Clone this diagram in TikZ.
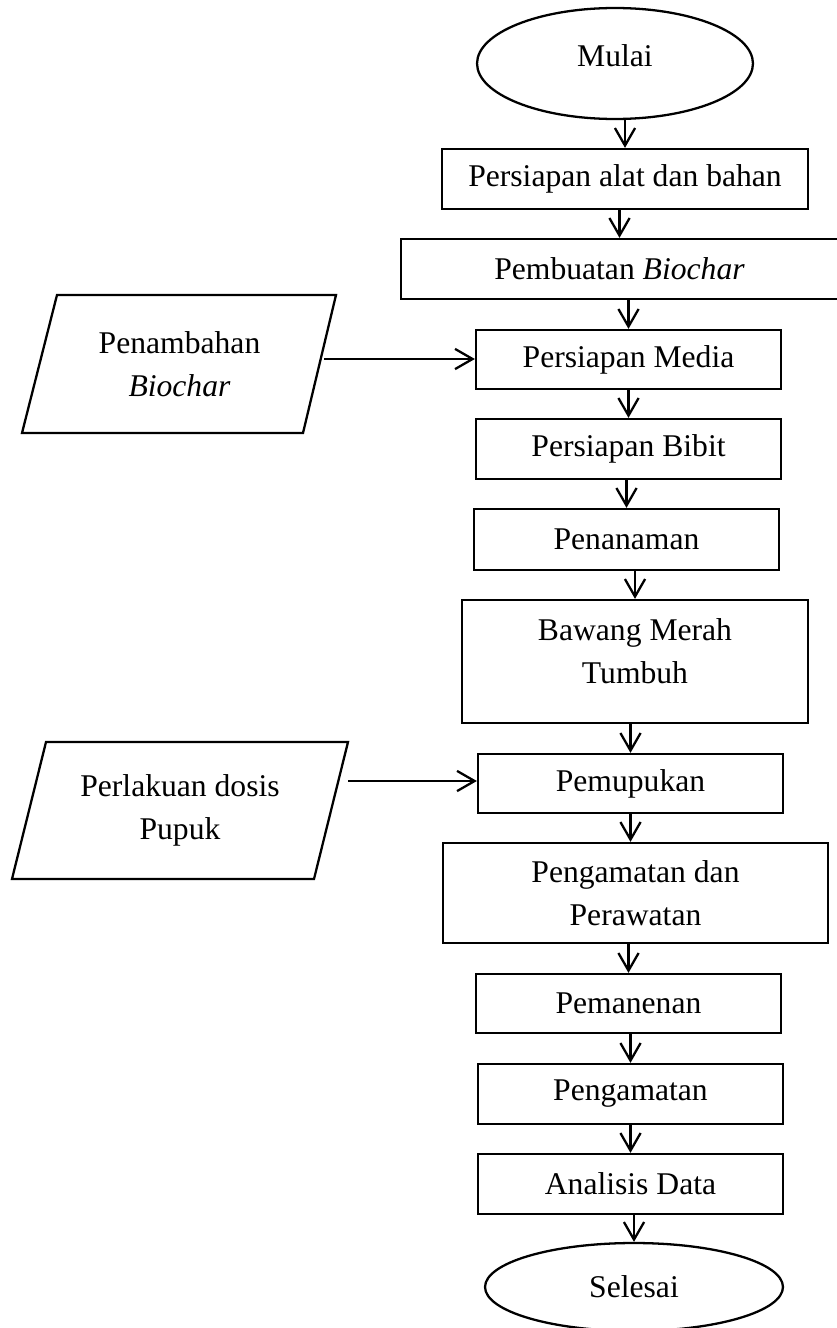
\documentclass[tikz,border=0pt]{standalone}
\usepackage{fontspec}
\setmainfont{Liberation Serif}
\usetikzlibrary{arrows.meta,shapes.geometric}
\begin{document}
\begin{tikzpicture}[x=0.02cm,y=-0.02cm,
  font=\fontsize{18}{24.5}\selectfont,
  box/.style={draw,line width=1.3pt,rectangle,inner sep=0pt,align=center,minimum width=6.1cm,minimum height=1.2cm},
  term/.style={draw,line width=1.3pt,ellipse,inner sep=0pt},
  para/.style={draw,line width=1.3pt,line join=miter},
  txt/.style={inner sep=0pt,align=center},
  arr/.style={line width=1.3pt,-{Straight Barb[length=10pt,width=11.5pt,line width=1.3pt]}}]
\useasboundingbox (0,0) rectangle (836,1328);

\node[term,minimum width=5.52cm,minimum height=2.22cm] (mulai) at (615,63.5) {};
\node[txt] (mulait) at (615,56) {Mulai};
\node[box,minimum width=7.32cm] (b1) at (625,179) {Persiapan alat dan bahan};
\node[box,minimum width=8.74cm] (b2) at (619.5,269) {Pembuatan \textit{Biochar}};
\node[box,minimum height=1.18cm] (b3) at (628.5,359.5) {Persiapan Media};
\node[box] (b4) at (628.5,449) {Persiapan Bibit};
\node[box,minimum height=1.22cm] (b5) at (626.5,539.5) {Penanaman};
\node[box,minimum width=6.92cm,minimum height=2.46cm] (b6) at (635,661.5) {};
\node[txt] (b6t) at (635,651) {Bawang Merah\\Tumbuh};
\node[box,minimum height=1.18cm] (b7) at (630.5,783.5) {Pemupukan};
\node[box,minimum width=7.7cm,minimum height=2.0cm] (b8) at (635.5,893) {Pengamatan dan\\Perawatan};
\node[box,minimum height=1.18cm] (b9) at (628.5,1003.5) {Pemanenan};
\node[box] (b10) at (630.5,1094) {Pengamatan};
\node[box] (b11) at (630.5,1184) {Analisis Data};
\node[term,minimum width=5.96cm,minimum height=1.76cm] (selesai) at (634,1287) {Selesai};

% input parallelograms
\coordinate (p1a) at (57,295);
\coordinate (p1b) at (336,295);
\coordinate (p1c) at (303,433);
\coordinate (p1d) at (22,433);
\draw[para] (p1a) -- (p1b) -- (p1c) -- (p1d) -- cycle;
\node[txt] (p1) at (179.5,364) {Penambahan\\\textit{Biochar}};
\coordinate (p1o) at (324,359);

\coordinate (p2a) at (46,742);
\coordinate (p2b) at (348,742);
\coordinate (p2c) at (314,879);
\coordinate (p2d) at (12,879);
\draw[para] (p2a) -- (p2b) -- (p2c) -- (p2d) -- cycle;
\node[txt] (p2) at (180,810.5) {Perlakuan dosis\\Pupuk};
\coordinate (p2o) at (348,781);

\draw[arr] (b1.north |- mulai.south) -- (b1.north);
\draw[arr] (b2.north |- b1.south) -- (b2.north);
\draw[arr] (b3.north |- b2.south) -- (b3.north);
\draw[arr] (b4.north |- b3.south) -- (b4.north);
\draw[arr] (b5.north |- b4.south) -- (b5.north);
\draw[arr] (b6.north |- b5.south) -- (b6.north);
\draw[arr] (b7.north |- b6.south) -- (b7.north);
\draw[arr] (b7.south) -- (b7.south |- b8.north);
\draw[arr] (b9.north |- b8.south) -- (b9.north);
\draw[arr] (b10.north |- b9.south) -- (b10.north);
\draw[arr] (b11.north |- b10.south) -- (b11.north);
\draw[arr] (selesai.north |- b11.south) -- (selesai.north);

\draw[arr] (p1o) -- (b3.west |- p1o);
\draw[arr] (p2o) -- (b7.west |- p2o);
\end{tikzpicture}
\end{document}
